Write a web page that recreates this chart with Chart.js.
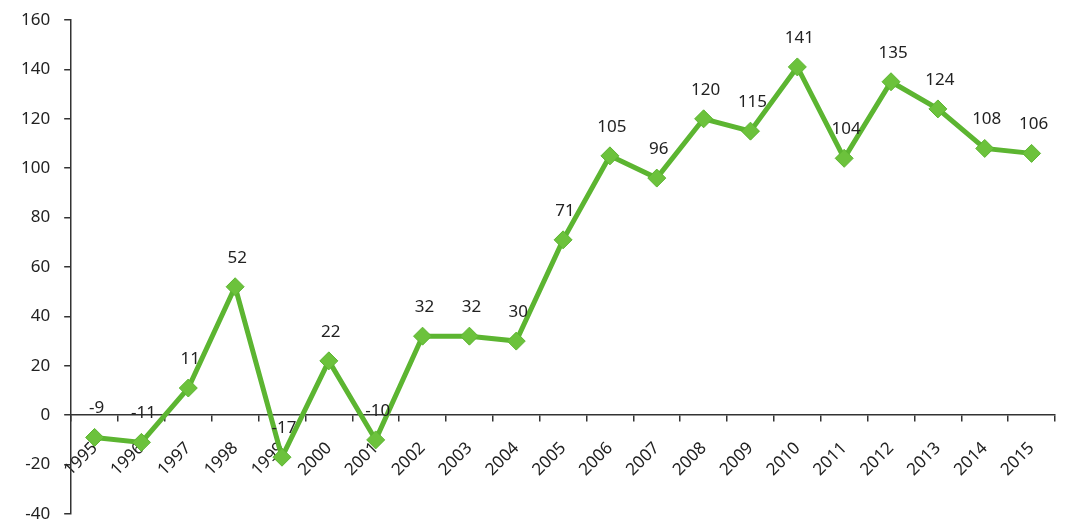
<!DOCTYPE html>
<html>
<head>
<meta charset="utf-8">
<script src="https://cdn.jsdelivr.net/npm/chart.js@4/dist/chart.umd.min.js"></script>
<style>
  html, body { margin: 0; padding: 0; background: #fff; }
  #wrap { width: 1065px; height: 526px; }
</style>
</head>
<body>
<div id="wrap"><canvas id="chart"></canvas></div>
<script>
var years = ['1995', '1996', '1997', '1998', '1999', '2000', '2001', '2002', '2003', '2004', '2005',
  '2006', '2007', '2008', '2009', '2010', '2011', '2012', '2013', '2014', '2015'];
var values = [-9, -11, 11, 52, -17, 22, -10, 32, 32, 30, 71, 105, 96, 120, 115, 141, 104, 135, 124, 108, 106];
var yMin = -40, yMax = 160, yStep = 20;

// draws the value above every point
var pointLabels = {
  id: 'pointLabels',
  afterDatasetsDraw: function (chart) {
    var ctx = chart.ctx;
    var meta = chart.getDatasetMeta(0);
    ctx.save();
    ctx.font = '17px "Noto Sans", sans-serif';
    ctx.fillStyle = '#222';
    ctx.textAlign = 'center';
    ctx.textBaseline = 'middle';
    meta.data.forEach(function (pt, i) {
      ctx.fillText(String(values[i]), pt.x + 2, pt.y - 29);
    });
    ctx.restore();
  }
};

var tickFont = { family: '"Noto Sans", sans-serif', size: 17 };

new Chart(document.getElementById('chart'), {
  type: 'line',
  data: {
    labels: years,
    datasets: [{
      data: values,
      borderColor: '#5cb531',
      borderWidth: 5,
      fill: false,
      tension: 0,
      pointStyle: 'rectRot',
      pointRadius: 9,
      pointBackgroundColor: '#6cc23c',
      pointBorderColor: '#5cb531',
      pointBorderWidth: 1
    }]
  },
  options: {
    responsive: true,
    maintainAspectRatio: false,
    animation: false,
    layout: { padding: { top: 20, right: -5, bottom: 12, left: 7 } },
    plugins: { legend: { display: false }, tooltip: { enabled: false } },
    scales: {
      x: {
        position: { y: 0 },
        offset: true,
        z: 1,
        grid: {
          display: true,
          offset: true,
          drawOnChartArea: false,
          drawTicks: true,
          tickLength: 6,
          color: '#333',
          lineWidth: 1.5
        },
        border: { display: true, color: '#333', width: 1.5 },
        ticks: {
          font: tickFont,
          color: '#222',
          minRotation: 45,
          maxRotation: 45,
          padding: 17,
          autoSkip: false
        }
      },
      y: {
        min: yMin,
        max: yMax,
        afterFit: function (scale) {
          scale.paddingTop = 0;
          scale.paddingBottom = 0;
        },
        grid: {
          display: true,
          drawOnChartArea: false,
          drawTicks: true,
          tickLength: 7,
          color: '#333',
          lineWidth: 1.5
        },
        border: { display: true, color: '#333', width: 1.5 },
        ticks: {
          stepSize: yStep,
          font: tickFont,
          color: '#222',
          padding: 14
        }
      }
    }
  },
  plugins: [pointLabels]
});
</script>
</body>
</html>
